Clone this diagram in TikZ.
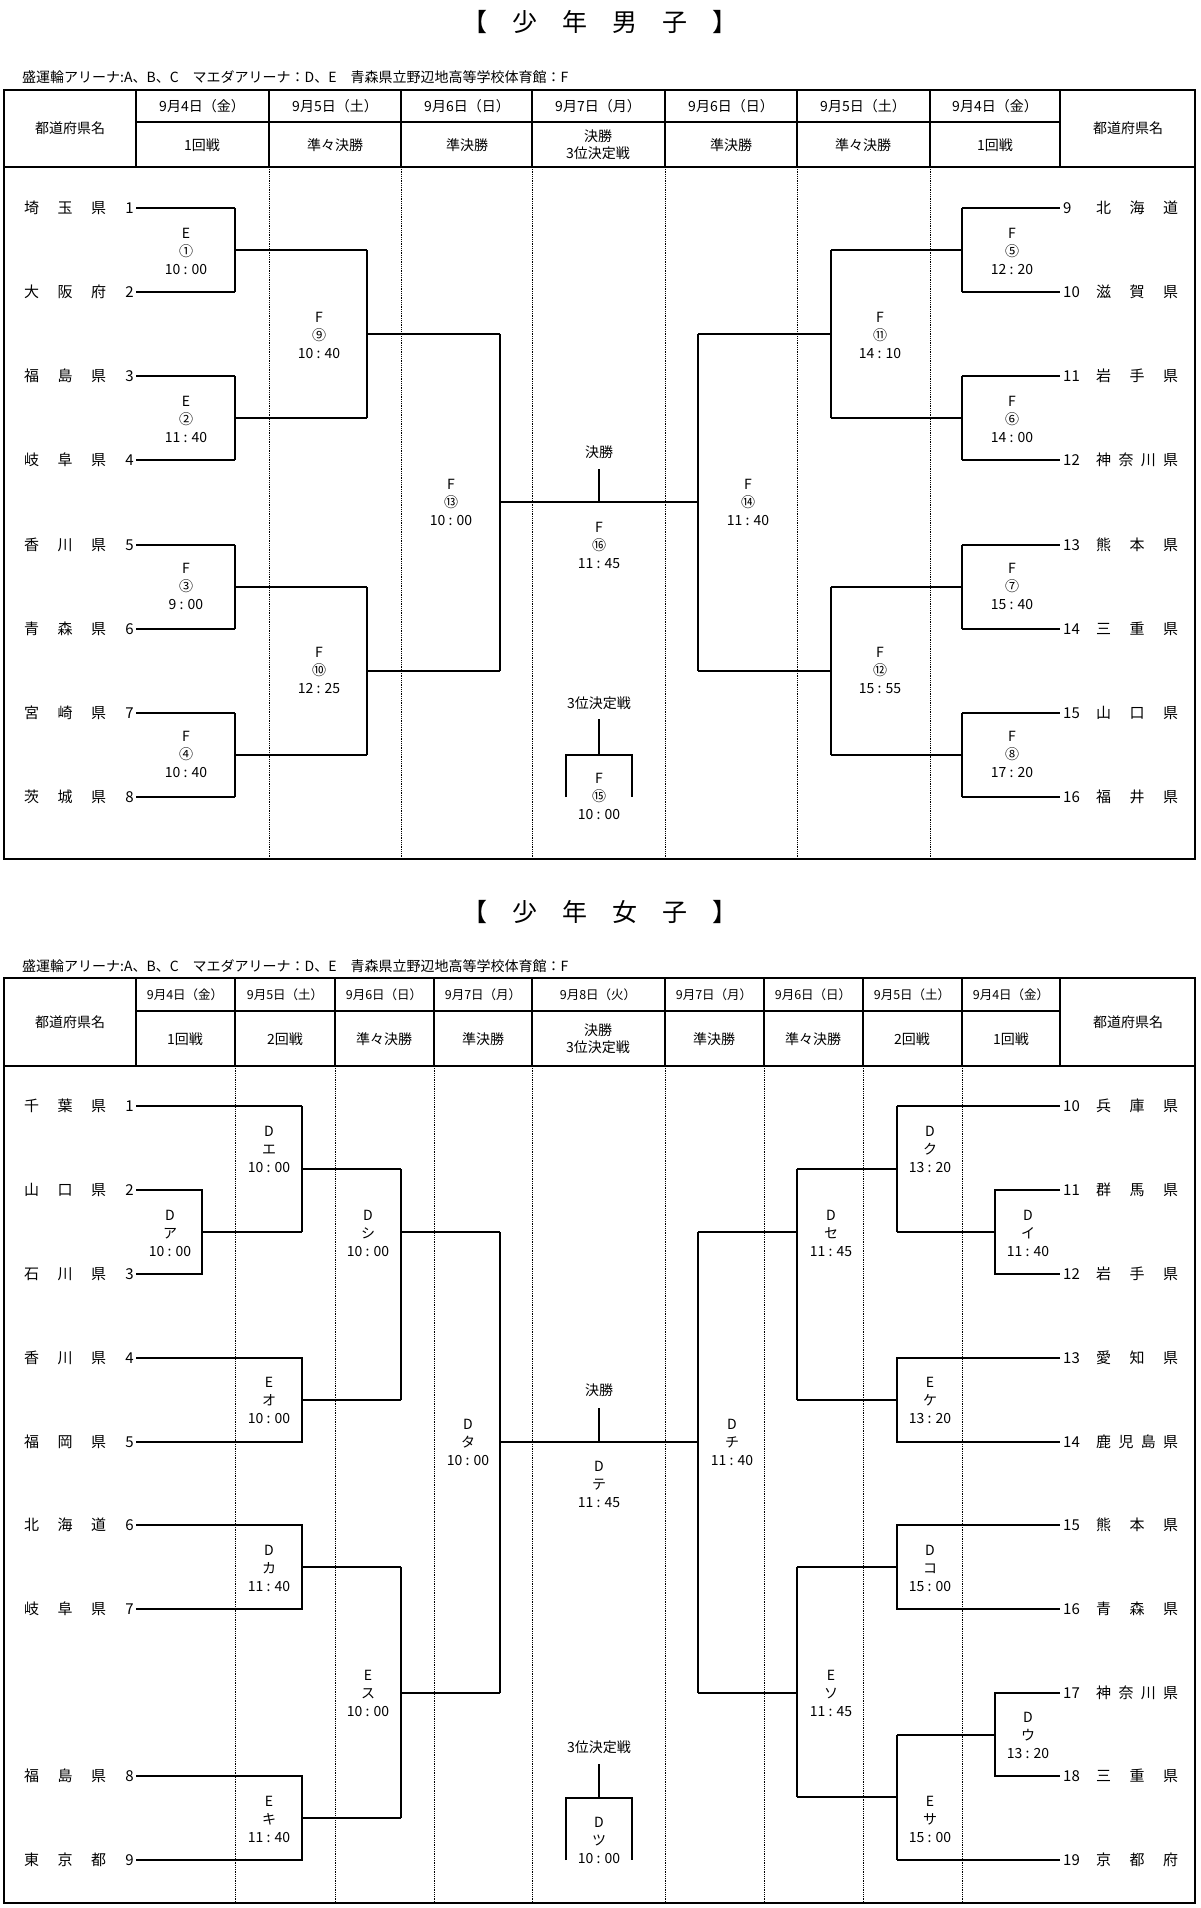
\documentclass[tikz,border=0pt]{standalone}
\usepackage{fontspec}
\setmainfont{Noto Sans CJK JP}
\begin{document}
\begin{tikzpicture}[x=1pt,y=-1pt,
  br/.style={line width=1.4pt},
  bx/.style={line width=2.4pt},
  hd/.style={line width=1.2pt},
  dt/.style={densely dotted,line width=0.8pt},
  lab/.style={align=center,font=\fontsize{14}{18}\selectfont,inner sep=0pt},
  tm/.style={font=\fontsize{15}{16}\selectfont,inner sep=0pt},
  hdt/.style={font=\fontsize{14}{17}\selectfont,inner sep=0pt,align=center}]
\useasboundingbox (0,0) rectangle (1200,1908);
\newcommand\pn[1]{\makebox[82pt][s]{#1}}
% ===== titles
\node[font=\fontsize{25}{28}\selectfont] (t1) at (600,22) {【　少　年　男　子　】};
\node[font=\fontsize{25}{28}\selectfont] (t2) at (600,912) {【　少　年　女　子　】};
\node[anchor=west,font=\fontsize{14}{16}\selectfont,inner sep=0pt] (n1) at (22,77) {盛運輪アリーナ:A、B、C　マエダアリーナ：D、E　青森県立野辺地高等学校体育館：F};
\node[anchor=west,font=\fontsize{14}{16}\selectfont,inner sep=0pt] (n2) at (22,966) {盛運輪アリーナ:A、B、C　マエダアリーナ：D、E　青森県立野辺地高等学校体育館：F};
% ===== boys frame
\draw[bx] (4,90) rectangle (1195,859);
\draw[hd] (4,167) -- (1195,167);
\draw[hd] (136,122) -- (1060,122);
\foreach \x in {136,269,401,532,665,797,930,1060} \draw[hd] (\x,90) -- (\x,167);
\foreach \x in {269,401,532,665,797,930} \draw[dt] (\x,167) -- (\x,859);
\node[hdt] (bh1) at (70,128) {都道府県名};
\node[hdt] (bh2) at (1128,128) {都道府県名};
\foreach \c/\d/\r in {202/9月4日（金）/1回戦, 335/9月5日（土）/準々決勝, 467/9月6日（日）/準決勝, 598/9月7日（月）/{決勝\\3位決定戦}, 731/9月6日（日）/準決勝, 863/9月5日（土）/準々決勝, 995/9月4日（金）/1回戦}{
  \node[hdt] at (\c,106) {\d};
  \node[hdt] at (\c,145) {\r};
}
% boys teams
\foreach \y/\n/\nm in {208/1/埼 玉 県, 292/2/大 阪 府, 376/3/福 島 県, 460/4/岐 阜 県, 545/5/香 川 県, 629/6/青 森 県, 713/7/宮 崎 県, 797/8/茨 城 県}{
  \node[tm,anchor=west] at (24,\y) {\pn{\nm}};
  \node[tm,anchor=east] at (134,\y) {\n};
  \draw[br] (136,\y) -- (235,\y);
}
\foreach \y/\n/\nm in {208/9/北 海 道, 292/10/滋 賀 県, 376/11/岩 手 県, 460/12/神 奈 川 県, 545/13/熊 本 県, 629/14/三 重 県, 713/15/山 口 県, 797/16/福 井 県}{
  \node[tm,anchor=west] at (1096,\y) {\pn{\nm}};
  \node[tm,anchor=west] at (1063,\y) {\n};
  \draw[br] (962,\y) -- (1060,\y);
}
\foreach \a/\b/\m in {208/292/250, 376/460/418, 545/629/587, 713/797/755}{
  \draw[br] (235,\a) -- (235,\b); \draw[br] (235,\m) -- (367,\m);
  \draw[br] (962,\a) -- (962,\b); \draw[br] (962,\m) -- (831,\m);
}
\foreach \a/\b/\m in {250/418/334, 587/755/671}{
  \draw[br] (367,\a) -- (367,\b); \draw[br] (367,\m) -- (500,\m);
  \draw[br] (831,\a) -- (831,\b); \draw[br] (831,\m) -- (698,\m);
}
\draw[br] (500,334) -- (500,671);
\draw[br] (698,334) -- (698,671);
\draw[br] (500,502) -- (698,502);
\draw[br] (599,469) -- (599,502);
\node[lab] at (599,452) {決勝};
\node[lab] at (599,703) {3位決定戦};
\draw[br] (599,719) -- (599,755);
\draw[br] (566,797) -- (566,755) -- (632,755) -- (632,797);
\foreach \x/\y/\t in {186/251/{E\\①\\10 : 00}, 186/419/{E\\②\\11 : 40}, 186/586/{F\\③\\9 : 00}, 186/754/{F\\④\\10 : 40},
  319/335/{F\\⑨\\10 : 40}, 319/670/{F\\⑩\\12 : 25}, 451/502/{F\\⑬\\10 : 00}, 599/545/{F\\⑯\\11 : 45}, 599/796/{F\\⑮\\10 : 00},
  748/502/{F\\⑭\\11 : 40}, 880/335/{F\\⑪\\14 : 10}, 880/670/{F\\⑫\\15 : 55},
  1012/251/{F\\⑤\\12 : 20}, 1012/419/{F\\⑥\\14 : 00}, 1012/586/{F\\⑦\\15 : 40}, 1012/754/{F\\⑧\\17 : 20}}
  \node[lab] at (\x,\y) {\t};
% ===== girls frame
\draw[bx] (4,978) rectangle (1195,1903);
\draw[hd] (4,1066) -- (1195,1066);
\draw[hd] (136,1011) -- (1060,1011);
\foreach \x in {136,235,335,434,532,665,764,863,962,1060} \draw[hd] (\x,978) -- (\x,1066);
\foreach \x in {235,335,434,532,665,764,863,962} \draw[dt] (\x,1066) -- (\x,1903);
\node[hdt] (gh1) at (70,1022) {都道府県名};
\node[hdt] (gh2) at (1128,1022) {都道府県名};
\foreach \c/\d/\r in {185/9月4日（金）/1回戦, 285/9月5日（土）/2回戦, 384/9月6日（日）/準々決勝, 483/9月7日（月）/準決勝, 598/9月8日（火）/{決勝\\3位決定戦}, 714/9月7日（月）/準決勝, 813/9月6日（日）/準々決勝, 912/9月5日（土）/2回戦, 1011/9月4日（金）/1回戦}{
  \node[hdt,font=\fontsize{12.5}{14}\selectfont] at (\c,995) {\d};
  \node[hdt] at (\c,1039) {\r};
}
\foreach \y/\n/\nm in {1106/1/千 葉 県, 1190/2/山 口 県, 1274/3/石 川 県, 1358/4/香 川 県, 1442/5/福 岡 県, 1525/6/北 海 道, 1609/7/岐 阜 県, 1776/8/福 島 県, 1860/9/東 京 都}{
  \node[tm,anchor=west] at (24,\y) {\pn{\nm}};
  \node[tm,anchor=east] at (134,\y) {\n};
}
\foreach \y/\n/\nm in {1106/10/兵 庫 県, 1190/11/群 馬 県, 1274/12/岩 手 県, 1358/13/愛 知 県, 1442/14/鹿 児 島 県, 1525/15/熊 本 県, 1609/16/青 森 県, 1693/17/神 奈 川 県, 1776/18/三 重 県, 1860/19/京 都 府}{
  \node[tm,anchor=west] at (1096,\y) {\pn{\nm}};
  \node[tm,anchor=west] at (1063,\y) {\n};
}
% left girls
\draw[br] (136,1106) -- (302,1106);
\draw[br] (136,1190) -- (202,1190) -- (202,1274) -- (136,1274);
\draw[br] (202,1232) -- (302,1232);
\draw[br] (302,1106) -- (302,1232);
\draw[br] (302,1169) -- (401,1169);
\draw[br] (136,1358) -- (302,1358) -- (302,1442) -- (136,1442);
\draw[br] (302,1400) -- (401,1400);
\draw[br] (401,1169) -- (401,1400);
\draw[br] (401,1232) -- (500,1232);
\draw[br] (136,1525) -- (302,1525) -- (302,1609) -- (136,1609);
\draw[br] (302,1567) -- (401,1567);
\draw[br] (136,1776) -- (302,1776) -- (302,1860) -- (136,1860);
\draw[br] (302,1818) -- (401,1818);
\draw[br] (401,1567) -- (401,1818);
\draw[br] (401,1693) -- (500,1693);
\draw[br] (500,1232) -- (500,1693);
% right girls
\draw[br] (1060,1106) -- (897,1106);
\draw[br] (1060,1190) -- (995,1190) -- (995,1274) -- (1060,1274);
\draw[br] (995,1232) -- (897,1232);
\draw[br] (897,1106) -- (897,1232);
\draw[br] (897,1169) -- (797,1169);
\draw[br] (1060,1358) -- (897,1358) -- (897,1442) -- (1060,1442);
\draw[br] (897,1400) -- (797,1400);
\draw[br] (797,1169) -- (797,1400);
\draw[br] (797,1232) -- (698,1232);
\draw[br] (1060,1525) -- (897,1525) -- (897,1609) -- (1060,1609);
\draw[br] (897,1567) -- (797,1567);
\draw[br] (1060,1693) -- (995,1693) -- (995,1776) -- (1060,1776);
\draw[br] (995,1735) -- (897,1735);
\draw[br] (1060,1860) -- (897,1860);
\draw[br] (897,1735) -- (897,1860);
\draw[br] (897,1797) -- (797,1797);
\draw[br] (797,1567) -- (797,1797);
\draw[br] (797,1693) -- (698,1693);
\draw[br] (698,1232) -- (698,1693);
\draw[br] (500,1442) -- (698,1442);
\draw[br] (599,1408) -- (599,1442);
\node[lab] at (599,1390) {決勝};
\node[lab] at (599,1747) {3位決定戦};
\draw[br] (599,1764) -- (599,1798);
\draw[br] (566,1860) -- (566,1798) -- (632,1798) -- (632,1860);
\foreach \x/\y/\t in {170/1233/{D\\ア\\10 : 00}, 269/1149/{D\\エ\\10 : 00}, 269/1400/{E\\オ\\10 : 00}, 269/1568/{D\\カ\\11 : 40}, 269/1819/{E\\キ\\11 : 40},
  368/1233/{D\\シ\\10 : 00}, 368/1693/{E\\ス\\10 : 00}, 468/1442/{D\\タ\\10 : 00}, 599/1484/{D\\テ\\11 : 45}, 599/1840/{D\\ツ\\10 : 00},
  732/1442/{D\\チ\\11 : 40}, 831/1233/{D\\セ\\11 : 45}, 831/1693/{E\\ソ\\11 : 45},
  930/1149/{D\\ク\\13 : 20}, 930/1400/{E\\ケ\\13 : 20}, 930/1568/{D\\コ\\15 : 00}, 930/1819/{E\\サ\\15 : 00},
  1028/1233/{D\\イ\\11 : 40}, 1028/1735/{D\\ウ\\13 : 20}}
  \node[lab] at (\x,\y) {\t};
\end{tikzpicture}
\end{document}
